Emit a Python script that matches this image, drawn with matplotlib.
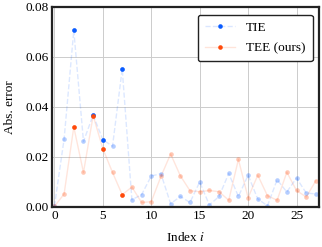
import numpy as np
import matplotlib
matplotlib.use("Agg")
from matplotlib import pyplot as plt
from matplotlib.lines import Line2D

# absolute errors per index
idx = np.arange(28)
tie = [0.0003, 0.0272, 0.0706, 0.0262, 0.0368, 0.0269, 0.0243, 0.0552,
       0.0029, 0.0049, 0.0124, 0.0133, 0.0013, 0.0042, 0.0018, 0.0100,
       0.0008, 0.0042, 0.0134, 0.0042, 0.0127, 0.0032, 0.0005, 0.0109,
       0.0060, 0.0116, 0.0056, 0.0052]
tee = [0.0002, 0.0052, 0.0320, 0.0138, 0.0365, 0.0233, 0.0138, 0.0049,
       0.0080, 0.0018, 0.0021, 0.0122, 0.0212, 0.0125, 0.0065, 0.0061,
       0.0066, 0.0061, 0.0027, 0.0190, 0.0037, 0.0127, 0.0045, 0.0027,
       0.0139, 0.0066, 0.0040, 0.0105]
# indices drawn at full opacity
hi_tie = [2, 4, 5, 7]
hi_tee = [2, 4, 5, 7]

blue = '#0a5cff'
orange = '#ff4a0a'

plt.rcParams['font.family'] = ['Liberation Serif', 'DejaVu Serif']
plt.rcParams['mathtext.fontset'] = 'stix'
plt.rcParams['font.size'] = 9.5

fig = plt.figure(figsize=(3.22, 2.47), dpi=100)
ax = fig.add_axes([0.16, 0.162, 0.83, 0.81])

tie = np.array(tie)
tee = np.array(tee)

ax.plot(idx, tie, '--', color=blue, alpha=0.14, lw=1)
ax.plot(idx, tee, '-', color=orange, alpha=0.14, lw=1)
ax.plot(idx, tie, 'o', color=blue, alpha=0.3, ms=3.3, mew=0)
ax.plot(idx, tee, 'o', color=orange, alpha=0.3, ms=3.3, mew=0)
ax.plot(idx[hi_tie], tie[hi_tie], 'o', color=blue, ms=3.3, mew=0)
ax.plot(idx[hi_tee], tee[hi_tee], 'o', color=orange, ms=3.3, mew=0)

ax.set_xlim(-0.3, 27.3)
ax.set_ylim(0, 0.08)
ax.set_xticks([0, 5, 10, 15, 20, 25])
ax.set_yticks([0, 0.02, 0.04, 0.06, 0.08])
ax.set_yticklabels(['0.00', '0.02', '0.04', '0.06', '0.08'])
ax.tick_params(length=0, pad=2, labelsize=9.5)
ax.grid(True, color='#cccccc', lw=0.7)
ax.set_axisbelow(True)
for s in ax.spines.values():
    s.set_linewidth(1.6)
    s.set_color('#222222')

ax.set_xlabel('Index $i$', labelpad=7)
ax.set_ylabel('Abs. error', labelpad=7)

handles = [
    Line2D([], [], ls='--', color=(0.04, 0.36, 1.0, 0.15), marker='o',
           ms=3.3, mew=0, lw=1, markerfacecolor=blue),
    Line2D([], [], ls='-', color=(1.0, 0.29, 0.04, 0.15), marker='o',
           ms=3.3, mew=0, lw=1, markerfacecolor=orange),
]
leg = ax.legend(handles, ['TIE', 'TEE (ours)'], loc='upper right',
                fancybox=True, framealpha=1, edgecolor='#222222',
                fontsize=9.5, handlelength=2.3, borderpad=0.55,
                labelspacing=0.6, borderaxespad=0,
                bbox_to_anchor=(0.977, 0.962))
leg.get_frame().set_linewidth(1.0)

fig.savefig('out.png', dpi=100)
